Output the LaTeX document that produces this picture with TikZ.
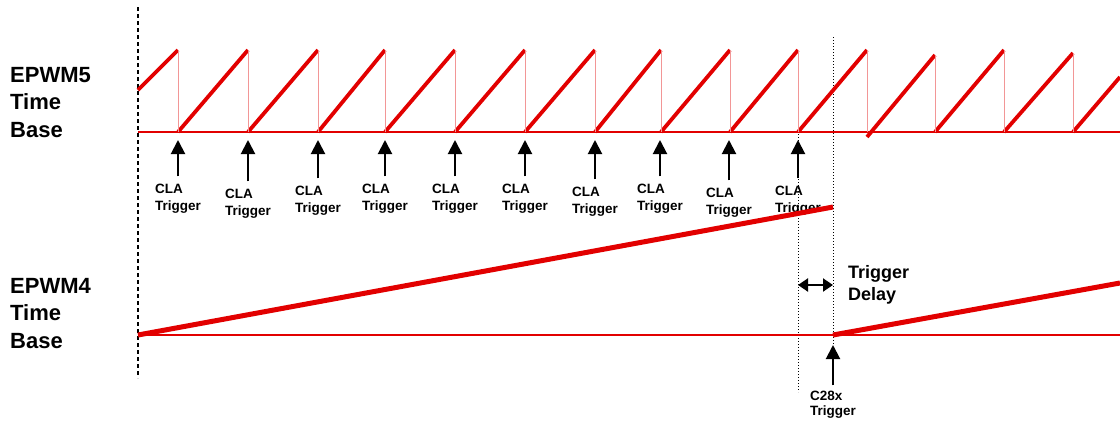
\documentclass[tikz,border=0pt]{standalone}
\usepackage{fontspec}
\setmainfont{Liberation Sans}
\usetikzlibrary{positioning, arrows.meta}
\definecolor{tbred}{RGB}{226,0,0}
\definecolor{tbpink}{RGB}{242,150,150}
\tikzset{
  axisline/.style={tbred, line width=1.6pt},
  ramp/.style={tbred, line width=3.8pt},
  drop/.style={tbpink, line width=0.9pt},
  trig/.style={-{Triangle[width=14pt,length=14pt]}, line width=2pt},
  trigtext/.style={font=\fontsize{13.5}{17}\selectfont\bfseries, align=left, inner sep=1pt},
  sigtext/.style={font=\fontsize{22}{27.5}\selectfont\bfseries, align=left, inner sep=0pt},
  guide/.style={line width=1pt, dash pattern=on 1pt off 2pt}
}
\begin{document}
\begin{tikzpicture}[x=1pt, y=-1pt]
  \useasboundingbox (0,0) rectangle (1120,421);

  \node (epwm5) [sigtext, anchor=base west] at (10,137) {EPWM5\\Time\\Base};
  \node (epwm4) [sigtext, anchor=base west] at (10,348) {EPWM4\\Time\\Base};

  \draw [line width=1.2pt, dash pattern=on 4pt off 3pt] (138,7) -- (138,378);
  \draw [guide] (798,50) -- (798,392);
  \draw [guide] (833,37) -- (833,345);

  \draw [axisline] (138,132) -- (1120,132);
  \draw [ramp] (138,90) -- (178,50);
  \foreach \a/\b in {178/248, 248/318, 318/385, 385/455, 455/525, 525/595, 595/661, 661/730, 730/798, 798/867}
    \draw [ramp] (\a,132) -- (\b,50);
  \draw [ramp] (867,137) -- (935,55);
  \draw [ramp] (935,132) -- (1004,50);
  \draw [ramp] (1004,132) -- (1073,53);
  \draw [ramp] (1073,132) -- (1120,77);
  \foreach \b/\t in {178/50, 248/50, 318/50, 385/50, 455/50, 525/50, 595/50, 661/50, 730/50, 798/50, 867/50, 935/55, 1004/50, 1073/53}
    \draw [drop] (\b,\t) -- (\b,132);

  \foreach \x/\y [count=\i] in {178/210, 248/215, 318/212, 385/210, 455/210, 525/210, 595/213, 660/210, 729/214, 798/212} {
    \node (cla\i) [trigtext, anchor=base] at (\x,\y) {CLA\\Trigger};
    \coordinate (tip\i) at (\x,140);
    \draw [trig] ([yshift=6pt]cla\i.north -| tip\i) -- (tip\i);
  }

  \draw [tbred, line width=1.2pt] (138,335) -- (1120,335);
  \draw [tbred, line width=5pt] (138,335) -- (833,207);
  \draw [tbred, line width=5pt] (833,335) -- (1120,283);

  \coordinate (dl) at (798,285);
  \coordinate (dr) at (833,285);
  \draw [{Triangle[width=13pt,length=10pt]}-{Triangle[width=13pt,length=10pt]}, line width=2pt] (dl) -- (dr);
  \node (delay) [font=\fontsize{18}{22}\selectfont\bfseries, align=left, inner sep=0pt, anchor=base west] at (848,300) {Trigger\\Delay};

  \node (c28x) [trigtext, anchor=base, font=\fontsize{13.5}{15}\selectfont\bfseries] at (833,415) {C28x\\Trigger};
  \coordinate (tipc) at (833,345);
  \draw [trig] ([yshift=4pt]c28x.north -| tipc) -- (tipc);
\end{tikzpicture}
\end{document}
